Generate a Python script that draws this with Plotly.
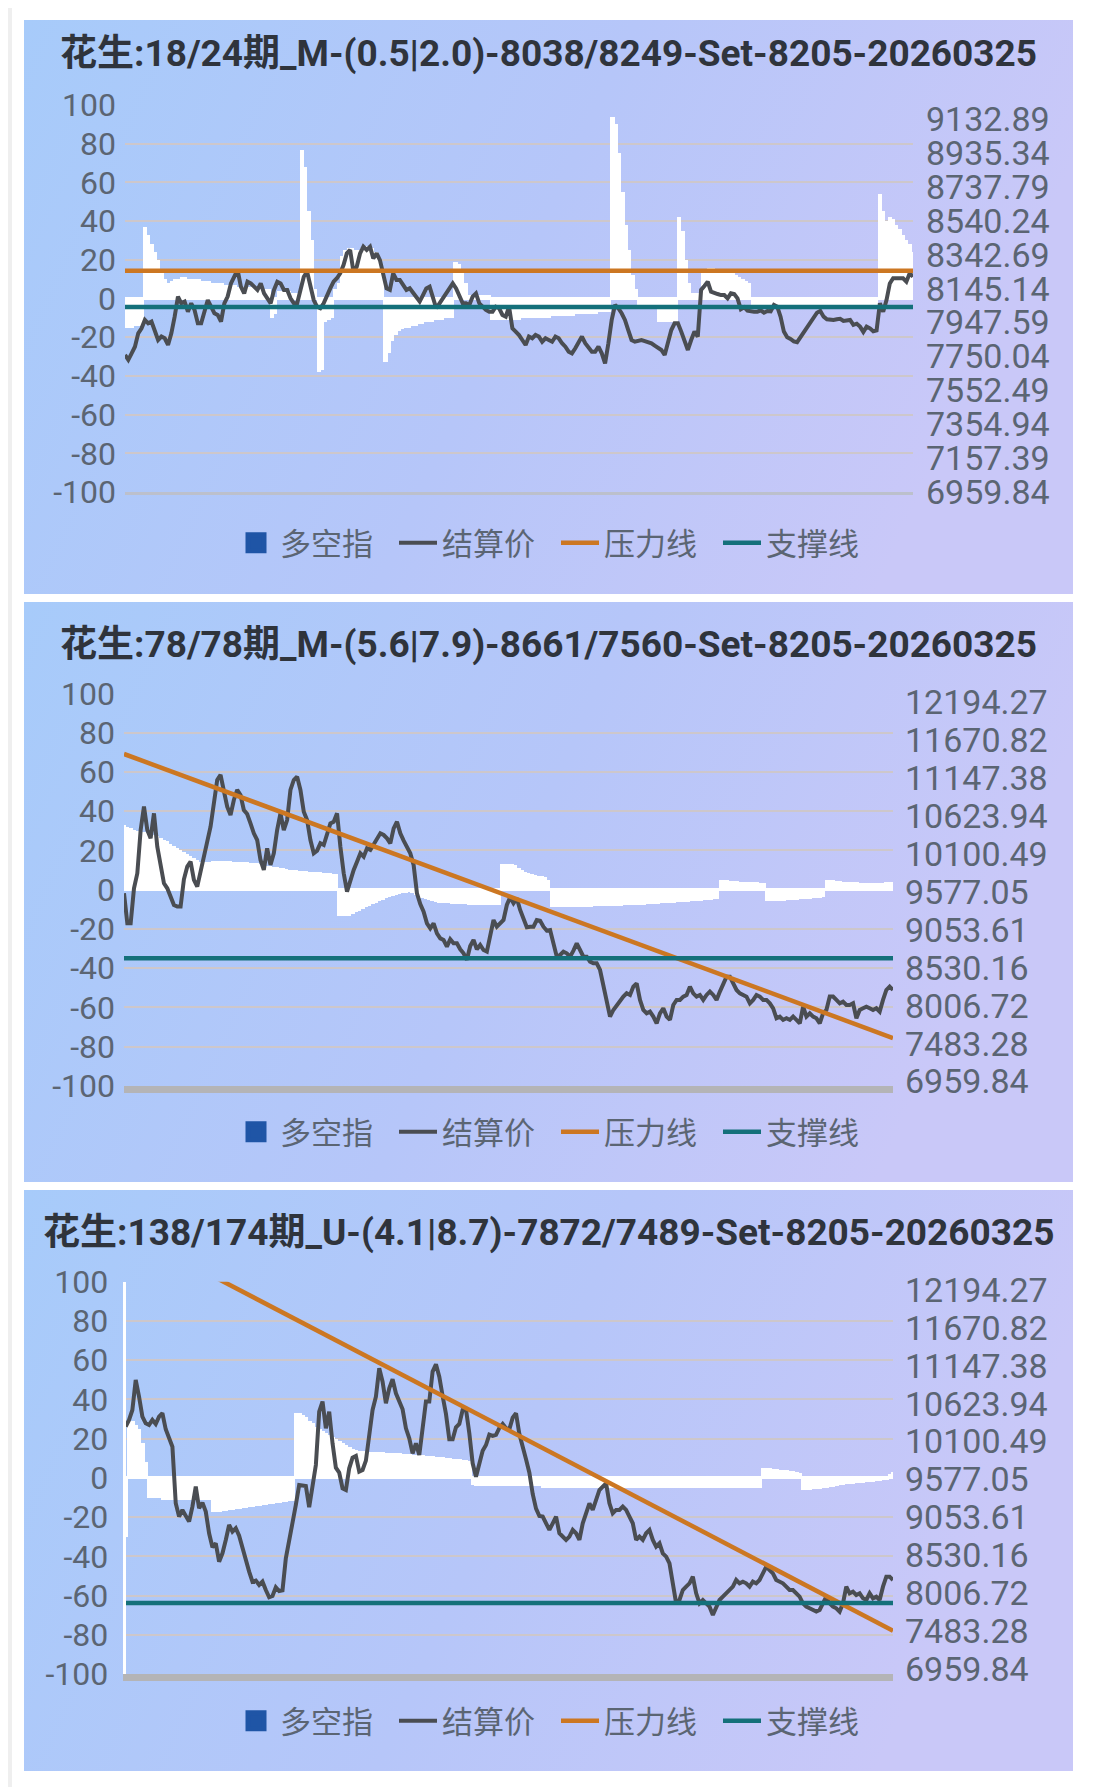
import base64
import numpy as np
import plotly.graph_objects as go

W, H = 1093, 1787

# ---------------- data ----------------
title_1 = "花生:18/24期_M-(0.5|2.0)-8038/8249-Set-8205-20260325"
title_2 = "花生:78/78期_M-(5.6|7.9)-8661/7560-Set-8205-20260325"
title_3 = "花生:138/174期_U-(4.1|8.7)-7872/7489-Set-8205-20260325"

legend_names = ["多空指", "结算价", "压力线", "支撑线"]

left_ticks = [-100, -80, -60, -40, -20, 0, 20, 40, 60, 80, 100]
right_ticks_1 = [6959.84, 7157.39, 7354.94, 7552.49, 7750.04, 7947.59,
                 8145.14, 8342.69, 8540.24, 8737.79, 8935.34, 9132.89]
right_ticks_23 = [6959.84, 7483.28, 8006.72, 8530.16, 9053.61, 9577.05,
                  10100.49, 10623.94, 11147.38, 11670.82, 12194.27]
right_range_1 = [6959.84, 9216.0]
right_range_2 = [6897.7, 12321.0]
right_range_3 = [6890.8, 12308.0]

price_1 = [
    7759, 7730, 7768, 7807, 7885, 7914, 7963, 7943, 7953, 7904,
    7846, 7866, 7856, 7817, 7885, 7982, 8099, 8060, 8070, 8011,
    8060, 8021, 7943, 7943, 8002, 8079, 8040, 8002, 7992, 7953,
    8060, 8099, 8176, 8215, 8254, 8157, 8118, 8186, 8176, 8157,
    8138, 8176, 8118, 8089, 8060, 8138, 8186, 8176, 8138, 8138,
    8089, 8060, 8060, 8138, 8215, 8244, 8157, 8079, 8040, 8031,
    8060, 8108, 8147, 8186, 8206, 8235, 8283, 8351, 8371, 8244,
    8274, 8351, 8390, 8371, 8390, 8322, 8351, 8312, 8235, 8147,
    8138, 8235, 8196, 8196, 8167, 8138, 8147, 8118, 8089, 8070,
    8108, 8147, 8157, 8099, 8031, 8060, 8089, 8118, 8157, 8176,
    8147, 8099, 8060, 8060, 8050, 8099, 8118, 8060, 8040, 8021,
    8011, 8011, 8040, 8031, 7992, 7982, 8040, 7914, 7895, 7875,
    7846, 7817, 7866, 7856, 7875, 7866, 7836, 7856,
    7846, 7836, 7866, 7856, 7827, 7807, 7778, 7768, 7798, 7827,
    7866, 7827, 7798, 7778, 7778, 7807, 7768, 7710, 7827, 7963,
    8050, 8031, 8002, 7963, 7904, 7846, 7836, 7842, 7846, 7840,
    7833, 7827, 7813, 7801, 7788, 7759, 7827, 7904, 7943, 7943,
    7895, 7836, 7788, 7846, 7895, 7866, 8138, 8161, 8186, 8128,
    8118, 8114, 8108, 8108, 8089, 8118, 8114, 8089, 8025, 8037,
    8017, 8011, 8011, 8011, 8019, 8005, 8015, 8013, 8050, 8040,
    7982, 7895, 7862, 7852, 7838, 7833, 7862, 7891, 7920, 7949,
    7978, 8005, 8015, 7982, 7967, 7963, 7963, 7967, 7970, 7957,
    7963, 7963, 7934, 7941, 7924, 7893, 7924, 7914, 7897, 7902,
    8060, 8011, 8079, 8176, 8206, 8206, 8206, 8206, 8186, 8235, 8215,
]
bars_1 = [
    -15, -15, -15, -14, -14, -14,
    37, 33, 28, 24, 20, 14, 10, 8,
    9, 10, 10, 11, 11, 10, 10,
    10, 10, 9, 9, 9, 8, 8, 8, 8, 7,
    7, 7, 7, 6, 6, 6, 6, 6, 5, 5, 5, 5, 5,
    -10, -8,
    4, 4, 4, 4, 3, 3, 3,
    77, 68, 45, 30, 5,
    -38, -37, -12, -11, -10,
    5, 8, 22, 25, 26, 26, 25, 25, 26, 27, 27, 26, 24, 20, 14,
    -33, -28, -22, -19, -17,
    -16, -15, -15, -14, -14, -13, -13, -12, -12, -12,
    -11, -11, -11, -10, -10, -10,
    19, 18, 14, 8,
    2, 2, 2, 2, 2, 2, 2,
    -11, -11, -11, -11, -11, -11, -11, -11, -11,
    -10, -10, -10, -10, -10, -10, -10, -10, -10,
    -9, -9, -9, -9, -9, -9, -9, -8, -8, -8, -8, -8, -8, -8, -7, -7, -7, -7,
    94, 90, 75, 55, 38, 25, 12, 5,
    -4, -4, -4, -4, -4, -4,
    -12, -12, -12, -12, -12, -12,
    42, 35, 20, 8, 3, 3, 3,
    13,
    15, 16, 16, 15, 15, 15, 14, 14, 13, 12, 11, 10, 9, 8,
    -4, -4, -4, -4, -4, -4, -4, -4, -4, -4,
    -4, -4, -4, -4, -4, -4, -4, -4, -4, -4,
    -4, -4, -4, -4, -4, -4, -4, -4, -4, -4,
    -4, -4, -4, -4, -4, -4, -4, -4,
    54, 45, 40, 42, 41, 38, 36, 33, 30, 28, 24,
]
pressure_1 = [8249, 8249]
support_1 = [8038, 8038]

price_2 = [
    9559, 9144, 9144, 9628, 9835, 10433, 10756, 10433, 10318, 10663,
    10203, 9927, 9697, 9628, 9513, 9398, 9375, 9375, 9752, 9927,
    9996, 9743, 9651, 9881, 10065, 10272, 10479, 10802, 11124, 11193,
    10963, 10756, 10640, 10848, 10986, 10917, 10709, 10654, 10525, 10387,
    10295, 10019, 9881, 10180, 9950, 10111, 10433, 10663, 10433, 10571,
    10986, 11124, 11170, 10986, 10686, 10571, 10295, 10111, 10148, 10249,
    10226, 10387, 10525, 10548, 10663, 10203, 9835, 9582, 9743, 9881,
    9996, 10111, 10065, 10180, 10157, 10226, 10295, 10387, 10364, 10318,
    10249, 10456, 10548, 10387, 10286, 10203, 10111, 9950, 9559, 9411,
    9306, 9144, 9075, 9144, 9006, 8937, 8914, 8822, 8924, 8868,
    8868, 8785, 8730, 8640, 8831, 8914, 8785, 8845, 8776, 8753,
    9006, 9190, 9098, 9144, 9190, 9398, 9503, 9421, 9490, 9329,
    9190, 9089, 9098, 9098, 9190, 9181, 9098, 9043,
    9052, 8868, 8684, 8707, 8753, 8730, 8684, 8767, 8868, 8776,
    8684, 8684, 8615, 8592, 8592, 8500, 8270, 8086, 7856, 7948,
    8017, 8086, 8132, 8178, 8155, 8270, 8316, 8086, 7948, 7902,
    7925, 7856, 7764, 7902, 7971, 7856, 7810, 8017, 8086, 8086,
    8132, 8155, 8270, 8178, 8132, 8155, 8086, 8155, 8201, 8155,
    8086, 8201, 8316, 8408, 8408, 8316, 8224, 8178, 8155, 8132,
    8040, 8086, 8155, 8132, 8086, 8086, 8040, 7971, 7833, 7856,
    7810, 7833, 7810, 7856, 7810, 7764, 7994, 7856, 7902, 7856,
    7833, 7764, 7902, 7948, 8132, 8132, 8086, 8040, 8063, 8017,
    8017, 8040, 7833, 7948, 7971, 7994, 7971, 7948, 7971, 7925,
    8086, 8224, 8270, 8224,
]
bars_2 = [
    33, 32, 31, 30, 29.5, 29, 29, 28.5, 28, 27.5,
    27, 26, 25, 24.5, 23, 22, 21, 20, 19, 18,
    17, 16, 15, 14, 14, 14, 14,
    14.5, 14.5, 14.5, 14.5, 14.5, 14.5, 14, 14, 14, 14, 14, 13.5, 13.5, 13.5, 13,
    12, 12, 12, 11.5, 11.5, 11, 11, 10.5,
    10, 10, 10, 9.5, 9.5, 9.5, 9, 9, 9, 9, 8.5, 8.5, 8.5, 8, 8,
    -13.5, -13.5, -13.5, -13.5, -12.5, -11.5, -11, -10, -9, -8.5,
    -7.5, -7, -6, -5.5, -4.5, -4, -3.5, -3, -2.5, -2,
    -2, -1.5, -2, -3, -4, -4.5, -5, -5.5, -6, -6.5,
    -7, -7, -7, -7, -7.5, -7.5, -7.5, -7.5, -7.5, -8,
    -8, -8, -8, -8, -8, -8, -8, -8, -8,
    13, 13, 13, 13, 12.5, 11, 10, 9, 8.5, 8, 7.5, 7, 7, 6.5,
    5, -9,
    -9, -9, -9, -9, -9, -9, -9, -9, -9, -9, -9, -9,
    -8.5, -8.5, -8.5, -8.5, -8.5, -8.5, -8.5, -8.5, -8.5,
    -8, -8, -8, -8, -8,
    -8, -8, -7.5, -7.5, -7.5, -7.5, -7, -7, -7, -7, -7, -6.5,
    -6.5, -6.5, -6.5, -6, -6, -6, -6, -5.5, -5.5, -5.5, -5, -5,
    5, 5, 5, 4.5, 4.5, 4.5, 4, 4, 4, 4, 3.5, 3.5, 3, 3,
    -6, -6, -6, -6, -6, -6, -5.5, -5.5, -5.5, -5.5, -5, -5, -5, -5, -4.5, -4.5, -4.5, -4,
    5, 5, 5, 4.5, 4.5, 4, 4, 3.5, 3.5, 3.5, 3, 3, 3, 3, 3, 3, 3, 3, 3.5, 3.5,
    4,
]
pressure_2 = [11483, 7560]
support_2 = [8661, 8661]

price_3 = [
    10307, 10399, 10537, 10951, 10721, 10445, 10353, 10330, 10399, 10343,
    10445, 10491, 10270, 10146, 10030, 9248, 9064, 9156, 9073, 8995,
    9202, 9478, 9179, 9257, 9133, 8834, 8640, 8696, 8442, 8557,
    8742, 8949, 8857, 8903, 8801, 8627, 8502, 8304, 8166, 8180,
    8120, 8166, 8051, 7950, 7968, 8088, 8037, 8047, 8488, 8732,
    8926, 9225, 9501, 9487, 9487, 9193, 9478, 9777, 10514, 10652,
    10284, 10514, 10076, 9740, 9671, 9455, 9432, 9731, 9879, 9902,
    9685, 9708, 9837, 10238, 10537, 10721, 11112, 10928, 10629, 10836,
    10960, 10767, 10643, 10546, 10284, 10146, 9938, 10076, 9915, 10330,
    10652, 10652, 11066, 11167, 10997, 10730, 10482, 10132, 10132, 10297,
    10343, 10537, 10546, 10215, 9800, 9616, 9810, 9975, 10053, 10196,
    10178, 10192, 10288, 10343, 10284, 10270, 10431, 10491, 10205, 10049,
    9856, 9671, 9377, 9174, 9073,
    9064, 8972, 8880, 8972, 9064, 8834, 8788, 8742, 8788, 8880,
    8834, 8742, 8972, 9110, 9248, 9156, 9294, 9432, 9478, 9524,
    9248, 9110, 9156, 9156, 9202, 9156, 9064, 8972, 8742, 8788,
    8742, 8834, 8880, 8742, 8650, 8696, 8557, 8511, 8419, 8097,
    7867, 7913, 8051, 8097, 8143, 8235, 8005, 7867, 7913, 7867,
    7821, 7706, 7821, 7913, 7959, 8005, 8051, 8097, 8189, 8143,
    8166, 8143, 8097, 8166, 8143, 8189, 8281, 8373, 8327, 8281,
    8189, 8166, 8143, 8097, 8051, 8051, 8005, 7959, 7867, 7821,
    7798, 7775, 7752, 7775, 7867, 7959, 7867, 7821, 7798, 7752,
    7867, 8097, 8005, 8028, 7982, 8005, 7936, 7913, 8005, 7936,
    7959, 7913, 8097, 8235, 8235, 8189,
]
bars_3 = [
    -30,
    30, 29, 27, 25, 18, 8, -10, -10, -10, -10, -11,
    -11, -11, -11, -11, -11, -11, -11, -11, -11, -11, -11, -11, -11, -11,
    -17,
    -17, -17, -16.5, -16.5, -16, -16, -15.5, -15.5, -15, -15, -14.5, -14.5,
    -14, -14, -13.5, -13.5, -13, -13, -12.5, -12.5, -12, -12, -11.5, -11.5,
    33, 33, 32, 31, 29, 28, 26, 25, 24, 23, 22,
    21, 20, 19, 18, 17, 16, 15, 14.5, 14, 14, 13.5,
    13.5, 13.5, 13.5, 13.5, 13.5, 13, 13, 13, 13, 13, 12.5,
    12.5, 12.5, 12, 12, 12, 12, 11.5, 11.5, 11.5, 11, 11,
    11, 10.5, 10.5, 10, 10, 10, 9.5, 9.5, 9,
    -3.5,
    -4, -4, -4, -4, -4, -4, -4, -4, -4, -4,
    -4, -4, -4, -4, -4, -4, -4, -4, -4, -4,
    -5, -5, -5, -5, -5, -5, -5, -5, -5, -5, -5,
    -5, -5, -5, -5, -5, -5, -5, -5, -5, -5, -5,
    -5, -5, -5, -5, -5, -5, -5, -5, -5, -5, -5,
    -5, -5, -5, -5, -5, -5, -5, -5, -5, -5, -5,
    -5, -5, -5, -5, -5, -5, -5, -5, -5, -5, -5,
    -5, -5, -5, -5, -5, -5, -5, -5, -5, -5, -5,
    5, 5, 5, 4.5, 4.5, 4, 4, 4, 3.5, 3.5, 3, 2.5,
    -6, -6, -6, -5.5, -5.5, -5.5, -5, -5, -4.5, -4.5, -4, -3.5, -3.5,
    -3, -3, -3, -2.5, -2.5, -2.5, -2, -2, -2, -1.5, -1.5, -1, -1,
    2, 3,
]
pressure_3 = [13012, 7489]
support_3 = [7872, 7872]

# ---------------- style ----------------
# the page body adds an 8px offset; positions below are target screen pixels
OFF = 8
PANEL_BOX = [(24, 20, 1073, 594), (24, 602, 1073, 1182), (24, 1190, 1073, 1771)]
PLOT_BOX = [(125, 105, 913, 492), (124, 693.3, 893, 1086), (125.7, 1281.7, 893, 1674)]
TITLE_Y = [54, 644, 1232]
LEGEND_Y = [543, 1132, 1721]
AXIS_LINE = [dict(color="#bcc0cc", width=3), dict(color="#b4b4b6", width=7), dict(color="#b4b4b6", width=7)]
RIGHT_STANDOFF = [12, 11, 11]

FONT = "Roboto, 'Noto Sans CJK SC', sans-serif"
CJK_FONT = "'Noto Sans CJK SC', Roboto, sans-serif"
TICK_COLOR = "#5b6573"
GRID_COLOR = "#cdc7cb"
PRICE_COLOR = "#4a4d52"
PRESS_COLOR = "#cc7722"
SUPP_COLOR = "#14707a"
LEG_BLUE = "#1f55a6"


def px(x):
    return (x - OFF) / W


def py(y):
    return 1 - (y - OFF) / H


svg = ('<svg xmlns="http://www.w3.org/2000/svg" width="200" height="100" '
       'viewBox="0 0 200 100" preserveAspectRatio="none"><defs>'
       '<linearGradient id="g" x1="0" y1="0" x2="1" y2="0.25">'
       '<stop offset="0" stop-color="#a7cbfa"/>'
       '<stop offset="0.55" stop-color="#b6c6f9"/>'
       '<stop offset="1" stop-color="#c9c8f8"/></linearGradient></defs>'
       '<rect width="200" height="100" fill="url(#g)"/></svg>')
svg_uri = "data:image/svg+xml;base64," + base64.b64encode(svg.encode()).decode()

panels = [
    dict(title=title_1, price=price_1, bars=bars_1, pressure=pressure_1, support=support_1,
         rticks=right_ticks_1, rrange=right_range_1),
    dict(title=title_2, price=price_2, bars=bars_2, pressure=pressure_2, support=support_2,
         rticks=right_ticks_23, rrange=right_range_2),
    dict(title=title_3, price=price_3, bars=bars_3, pressure=pressure_3, support=support_3,
         rticks=right_ticks_23, rrange=right_range_3),
]

fig = go.Figure()
layout = dict(
    width=W, height=H, margin=dict(l=0, r=0, t=0, b=0, pad=0, autoexpand=False),
    paper_bgcolor="white", plot_bgcolor="rgba(0,0,0,0)",
    barmode="overlay", bargap=0, showlegend=True,
    images=[], annotations=[], shapes=[],
)

layout["shapes"].append(dict(type="rect", xref="paper", yref="paper", x0=px(0), x1=px(12), y0=-0.01, y1=1.01,
                             fillcolor="#efefef", line_width=0, layer="below"))

for k, p in enumerate(panels):
    n = k + 1
    xa = "x" if n == 1 else f"x{n}"
    yl = "y" if n == 1 else f"y{2 * n - 1}"
    yr = f"y{2 * n}"
    xkey = "xaxis" if n == 1 else f"xaxis{n}"
    ylkey = "yaxis" if n == 1 else f"yaxis{2 * n - 1}"
    yrkey = f"yaxis{2 * n}"
    leg = "legend" if n == 1 else f"legend{n}"

    x0, y0, x1, y1 = PANEL_BOX[k]
    layout["images"].append(dict(source=svg_uri, xref="paper", yref="paper",
                                 x=px(x0), y=py(y0), sizex=px(x1) - px(x0), sizey=py(y0) - py(y1),
                                 xanchor="left", yanchor="top", sizing="stretch", layer="below"))

    lx0, ly0, lx1, ly1 = PLOT_BOX[k]
    layout[xkey] = dict(domain=[px(lx0), px(lx1)], range=[0, 1], anchor=yl, automargin=False,
                        showgrid=False, zeroline=False, showticklabels=False, ticks="",
                        showline=True, linecolor=AXIS_LINE[k]["color"], linewidth=AXIS_LINE[k]["width"],
                        fixedrange=True)
    layout[ylkey] = dict(domain=[py(ly1), py(ly0)], range=[-100, 100], anchor=xa, automargin=False,
                         tickvals=left_ticks, ticktext=[str(v) for v in left_ticks],
                         tickfont=dict(family=FONT, size=32, color=TICK_COLOR),
                         ticks="", ticklabelstandoff=8,
                         showgrid=True, gridcolor=GRID_COLOR, gridwidth=1.5,
                         zeroline=True, zerolinecolor="white", zerolinewidth=3,
                         showline=(n == 3), linecolor="white", linewidth=3,
                         fixedrange=True)
    layout[yrkey] = dict(overlaying=yl, side="right", anchor=xa, range=p["rrange"], automargin=False,
                         tickvals=p["rticks"], ticktext=[f"{v:.2f}" for v in p["rticks"]],
                         tickfont=dict(family=FONT, size=34, color=TICK_COLOR),
                         ticks="", ticklabelstandoff=RIGHT_STANDOFF[k],
                         showgrid=False, zeroline=False, showline=False, fixedrange=True)

    nb = len(p["bars"])
    xb = np.linspace(0, 1, nb)
    fig.add_trace(go.Bar(x=xb, y=p["bars"], width=1.25 / (nb - 1), marker=dict(color="white", line_width=0),
                         name=legend_names[0], showlegend=False, xaxis=xa, yaxis=yl, hoverinfo="skip"))
    fig.add_trace(go.Scatter(x=[None], y=[None], mode="markers", name=legend_names[0],
                             marker=dict(symbol="square", size=16, color=LEG_BLUE,
                                         line=dict(color=LEG_BLUE, width=5)),
                             xaxis=xa, yaxis=yl, legend=leg, showlegend=True))
    npz = len(p["price"])
    fig.add_trace(go.Scatter(x=np.linspace(0, 1, npz), y=p["price"], mode="lines", name=legend_names[1],
                             line=dict(color=PRICE_COLOR, width=4), xaxis=xa, yaxis=yr, legend=leg))
    fig.add_trace(go.Scatter(x=[0, 1], y=p["pressure"], mode="lines", name=legend_names[2],
                             line=dict(color=PRESS_COLOR, width=4.5), xaxis=xa, yaxis=yr, legend=leg))
    fig.add_trace(go.Scatter(x=[0, 1], y=p["support"], mode="lines", name=legend_names[3],
                             line=dict(color=SUPP_COLOR, width=4.5), xaxis=xa, yaxis=yr, legend=leg))

    layout["annotations"].append(dict(text=p["title"], xref="paper", yref="paper",
                                      x=px(548), y=py(TITLE_Y[k]), xanchor="center", yanchor="middle",
                                      showarrow=False,
                                      font=dict(family=FONT, size=37, color="#2f343c", weight="bold")))
    layout[leg] = dict(orientation="h", x=px(232), y=py(LEGEND_Y[k]), xanchor="left", yanchor="middle",
                       font=dict(family=CJK_FONT, size=31, color=TICK_COLOR),
                       bgcolor="rgba(0,0,0,0)", borderwidth=0, itemwidth=38, itemsizing="trace",
                       entrywidth=109, entrywidthmode="pixels", traceorder="normal",
                       itemclick=False, itemdoubleclick=False)

fig.update_layout(**layout)
fig.write_html("out.html")
